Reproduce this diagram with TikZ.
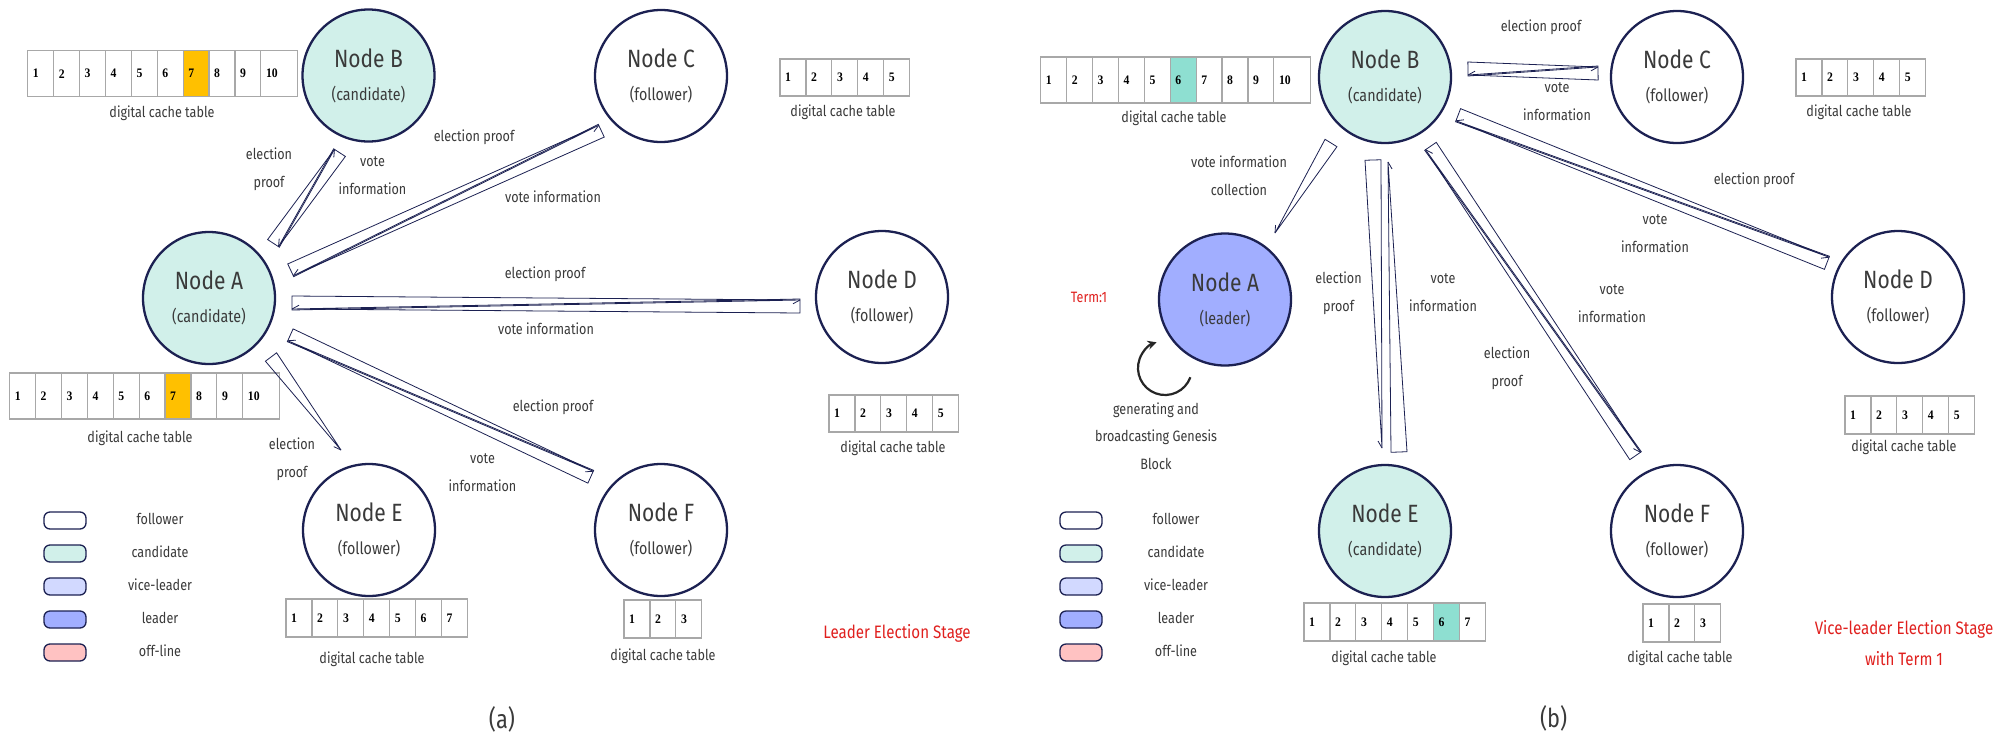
\documentclass[tikz,border=0pt]{standalone}
\usepackage{fontspec}
\setmainfont{Fira Sans}[FakeStretch=0.84]
\newfontfamily\cellfont{Liberation Serif}[FakeStretch=0.9]
\usetikzlibrary{calc,arrows.meta}

\definecolor{navy}{HTML}{1C2152}
\definecolor{mint}{HTML}{D1F0EA}
\definecolor{leadblue}{HTML}{A1AEFF}
\definecolor{viceblue}{HTML}{D2D9FF}
\definecolor{offpink}{HTML}{FFC2C2}
\definecolor{gold}{HTML}{FFC000}
\definecolor{tealmark}{HTML}{8EDFD1}
\definecolor{ink}{HTML}{3A3A3A}
\definecolor{stagered}{HTML}{E0201E}
\definecolor{cellgrey}{HTML}{A8A8A8}

\tikzset{
  peer/.style={circle, draw=navy, line width=2.3pt, minimum size=132pt, inner sep=0pt,
    align=center, text=ink, font=\fontsize{25}{33}\selectfont},
  note/.style={text=ink, align=center, inner sep=0pt, font=\fontsize{15}{28}\selectfont},
  digit/.style={inner sep=0pt, anchor=west, text=black,
    font=\cellfont\bfseries\fontsize{13}{13}\selectfont},
  cellbox/.style={draw=cellgrey, line width=1.2pt},
  wedgeline/.style={draw=navy, line width=0.8pt, line join=miter},
  keybox/.style={draw=navy, line width=1.3pt, rounded corners=6pt,
    minimum width=42pt, minimum height=17pt, inner sep=0pt},
  stage/.style={text=stagered, align=center, inner sep=0pt, font=\fontsize{18}{31}\selectfont},
  caption/.style={text=ink, inner sep=0pt, font=\fontsize{26}{26}\selectfont},
  loopline/.style={draw=black!85, line width=2.2pt, -{Stealth[length=9pt,width=9pt]}},
}

\newcommand\role[1]{{\fontsize{17}{33}\selectfont #1}}

% a row of numbered cache cells: name, x, y, cells, height, marked cell, mark colour
\newcommand\cachetable[7]{%
  \foreach \i in {1,...,#4}{%
    \pgfmathsetmacro\cl{#2+(\i-1)*25.9}%
    \pgfmathsetmacro\cw{\i==10 ? 37 : 25.9}%
    \ifnum\i=#6\relax\def\cf{#7}\else\def\cf{white}\fi
    \path[cellbox, fill=\cf] (\cl,#3) rectangle ++(\cw,#5);
    \node[digit] (#1-\i) at (\cl+5,#3+#5/2) {\i};
  }}

% one message: a slim wedge from its base to its tip, with a barb at the tip
\newcommand\sendwedge[3]{%
  \draw[wedgeline] ($(#1)!#3!90:(#2)$) -- ($(#1)!#3!-90:(#2)$) -- (#2) -- cycle;
  \draw[wedgeline] (#2) -- ($(#2)!8pt!28:(#1)$);}

% two messages running in opposite directions between two end points
\newcommand\sendpair[2]{%
  \coordinate (#1-u) at ($(#1)!3pt!90:(#2)$);
  \coordinate (#2-u) at ($(#2)!3pt!-90:(#1)$);
  \coordinate (#1-v) at ($(#1)!3pt!-90:(#2)$);
  \coordinate (#2-v) at ($(#2)!3pt!90:(#1)$);
  \sendwedge{#1-u}{#2-u}{7pt}
  \sendwedge{#2-v}{#1-v}{7pt}}

% colour key of the node states
\newcommand\statekey{%
  \node[keybox, fill=white]    (k1) at (65,520.5) {};
  \node[keybox, fill=mint]     (k2) at (65,553.5) {};
  \node[keybox, fill=viceblue] (k3) at (65,586.5) {};
  \node[keybox, fill=leadblue] (k4) at (65,619.5) {};
  \node[keybox, fill=offpink]  (k5) at (65,652.5) {};
  \node[note] (k1t) at (160,518.5) {follower};
  \node[note] (k2t) at (160,551.5) {candidate};
  \node[note] (k3t) at (160,584.5) {vice-leader};
  \node[note] (k4t) at (160,617.5) {leader};
  \node[note] (k5t) at (160,650.5) {off-line};}

\begin{document}
\begin{tikzpicture}[x=1pt, y=-1pt]
\fill[white] (0,0) rectangle (2013,737);
\useasboundingbox (0,0) rectangle (2013,737);

%% ---------------- (a) leader election ----------------
\begin{scope}[name prefix=a-]
  \node[peer, fill=mint]  (A) at (209,298)    {Node A\\\role{(candidate)}};
  \node[peer, fill=mint]  (B) at (368.5,75.5) {Node B\\\role{(candidate)}};
  \node[peer, fill=white] (C) at (661,76)     {Node C\\\role{(follower)}};
  \node[peer, fill=white] (D) at (882,297)    {Node D\\\role{(follower)}};
  \node[peer, fill=white] (E) at (369,530)    {Node E\\\role{(follower)}};
  \node[peer, fill=white] (F) at (661,530)    {Node F\\\role{(follower)}};

  \cachetable{tB}{27.7}{50.7}{10}{46}{7}{gold}
  \node[note] (tBl) at (162,113) {digital cache table};
  \cachetable{tA}{9.6}{373}{10}{46}{7}{gold}
  \node[note] (tAl) at (140,438) {digital cache table};
  \cachetable{tC}{780}{59}{5}{37}{0}{white}
  \node[note] (tCl) at (843,112) {digital cache table};
  \cachetable{tD}{829}{395}{5}{37}{0}{white}
  \node[note] (tDl) at (893,448) {digital cache table};
  \cachetable{tE}{286}{599}{7}{38}{0}{white}
  \node[note] (tEl) at (372,659) {digital cache table};
  \cachetable{tF}{624}{600}{3}{38}{0}{white}
  \node[note] (tFl) at (663,656) {digital cache table};

  \coordinate (AB1) at (276,245);  \coordinate (AB2) at (337,151);
  \coordinate (AC1) at (292,273);  \coordinate (AC2) at (600,128);
  \coordinate (AD1) at (292,306);  \coordinate (AD2) at (800,303);
  \coordinate (AE1) at (271,357);  \coordinate (AE2) at (341,450);
  \coordinate (AF1) at (289,338);  \coordinate (AF2) at (592,474);
  \sendpair{AB1}{AB2}
  \sendpair{AC1}{AC2}
  \sendpair{AD1}{AD2}
  \sendwedge{AE1}{AE2}{7pt}
  \sendpair{AF1}{AF2}

  \node[note] (l1) at (269,169) {election\\proof};
  \node[note] (l2) at (372.5,175.5) {vote\\information};
  \node[note] (l3) at (474,137) {election proof};
  \node[note] (l4) at (553,197) {vote information};
  \node[note] (l5) at (545,274) {election proof};
  \node[note] (l6) at (546,329) {vote information};
  \node[note] (l7) at (553,407) {election proof};
  \node[note] (l8) at (292,459) {election\\proof};
  \node[note] (l9) at (482.5,472.5) {vote\\information};

  \statekey
  \node[stage] (st) at (897,633) {Leader Election Stage};
  \node[caption] (cap) at (502,719) {(a)};
\end{scope}

%% ---------------- (b) vice-leader election ----------------
\begin{scope}[shift={(1016,0)}, name prefix=b-]
  \node[peer, fill=leadblue] (A) at (209,299.5) {Node A\\\role{(leader)}};
  \node[peer, fill=mint]     (B) at (369,77)    {Node B\\\role{(candidate)}};
  \node[peer, fill=white]    (C) at (661,77)    {Node C\\\role{(follower)}};
  \node[peer, fill=white]    (D) at (882,297)   {Node D\\\role{(follower)}};
  \node[peer, fill=mint]     (E) at (369,531)   {Node E\\\role{(candidate)}};
  \node[peer, fill=white]    (F) at (661,531)   {Node F\\\role{(follower)}};

  \cachetable{tB}{24.7}{57}{10}{46}{6}{tealmark}
  \node[note] (tBl) at (158,118) {digital cache table};
  \cachetable{tC}{780}{59}{5}{37}{0}{white}
  \node[note] (tCl) at (843,112) {digital cache table};
  \cachetable{tD}{829}{396}{5}{38}{0}{white}
  \node[note] (tDl) at (888,447) {digital cache table};
  \cachetable{tE}{288}{603}{7}{38}{6}{tealmark}
  \node[note] (tEl) at (368,658) {digital cache table};
  \cachetable{tF}{627}{604}{3}{38}{0}{white}
  \node[note] (tFl) at (664,658) {digital cache table};

  \coordinate (BA1) at (315,143);  \coordinate (BA2) at (259,233);
  \coordinate (BC1) at (452,72);   \coordinate (BC2) at (582,70);
  \coordinate (BD1) at (441,118);  \coordinate (BD2) at (812,260);
  \coordinate (BE1) at (357,160);  \coordinate (BE2) at (366,448);
  \coordinate (EB1) at (383,452);  \coordinate (EB2) at (372,162);
  \coordinate (BF1) at (412,148);  \coordinate (BF2) at (622,454);
  \sendwedge{BA1}{BA2}{7pt}
  \sendpair{BC1}{BC2}
  \sendpair{BD1}{BD2}
  \sendwedge{BE1}{BE2}{8pt}
  \sendwedge{EB1}{EB2}{8pt}
  \sendpair{BF1}{BF2}

  \coordinate (gen) at (149,368);
  \draw[loopline] ($(gen)+(20:27)$) arc[start angle=20, end angle=252, radius=27];

  \node[note] (l1) at (525,27) {election proof};
  \node[note] (l2) at (541,102) {vote\\information};
  \node[note] (l3) at (223,175.5) {vote information\\collection};
  \node[note, text=stagered] (term) at (73,297) {Term:1};
  \node[note] (l4) at (322.5,293) {election\\proof};
  \node[note] (l5) at (427,293) {vote\\information};
  \node[note] (l6) at (738,180) {election proof};
  \node[note] (l7) at (639,234) {vote\\information};
  \node[note] (l8) at (596,303.5) {vote\\information};
  \node[note] (l9) at (491,368) {election\\proof};
  \node[note, font=\fontsize{15}{27.5}\selectfont] (gtxt) at (140,436)
    {generating and\\broadcasting Genesis\\Block};

  \statekey
  \node[stage] (st) at (888,643.5) {Vice-leader Election Stage\\with Term 1};
  \node[caption] (cap) at (537.6,718) {(b)};
\end{scope}
\end{tikzpicture}
\end{document}
